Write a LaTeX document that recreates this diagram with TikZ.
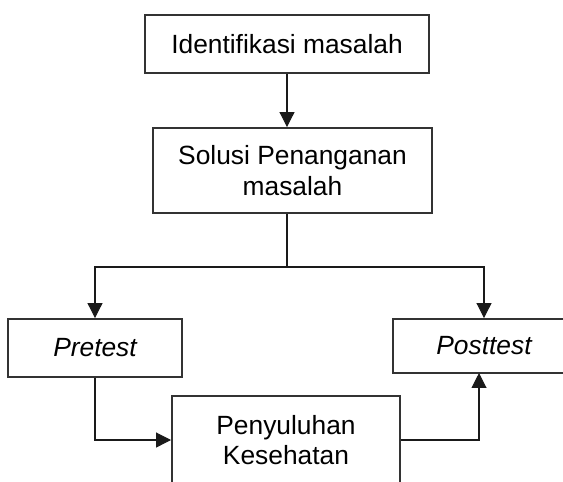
\documentclass[tikz,border=0pt]{standalone}
\usepackage{fontspec}
\setmainfont{Liberation Sans}
\usepackage{xcolor}
\usetikzlibrary{arrows.meta,calc,positioning}
\definecolor{boxline}{HTML}{333333}
\definecolor{linkline}{HTML}{1A1A1A}
\tikzset{every node/.append style={font=\fontsize{15}{17.5}\selectfont},
  stepbox/.style={draw=boxline,line width=1.1pt,align=center,inner sep=0pt},
  link/.style={draw=linkline,line width=0.6pt,-{Triangle[length=8.5pt,width=8.5pt]}}}

\begin{document}
\begin{tikzpicture}[x=0.02cm,y=-0.02cm]
  \useasboundingbox (0,0) rectangle (563,481);
  \node[stepbox,minimum width=284*0.02cm,minimum height=58*0.02cm] (iden) at (287,44) {Identifikasi masalah};
  \node[stepbox,minimum width=279*0.02cm,minimum height=85*0.02cm] (solusi) at (292.5,170.5)
    {Solusi Penanganan\\masalah};
  \node[stepbox,minimum width=174*0.02cm,minimum height=58*0.02cm] (pre) at (95,348) {\itshape Pretest};
  \node[stepbox,minimum width=182*0.02cm,minimum height=54*0.02cm] (post) at (484,346) {\itshape Posttest};
  \node[stepbox,minimum width=228*0.02cm,minimum height=88*0.02cm] (pen) at (286,440)
    {Penyuluhan\\Kesehatan};
  \coordinate (split) at (287,267);
  \coordinate (back) at (479,373);
  \draw[link] (iden.south) -- (iden.south |- solusi.north);
  \draw[draw=linkline,line width=0.6pt] (split |- solusi.south) -- (split);
  \draw[link] (split) -| (pre.north);
  \draw[link] (split) -| (post.north);
  \draw[link] (pre.south) |- (pen.west);
  \draw[link] (pen.east) -| (back);
\end{tikzpicture}
\end{document}
